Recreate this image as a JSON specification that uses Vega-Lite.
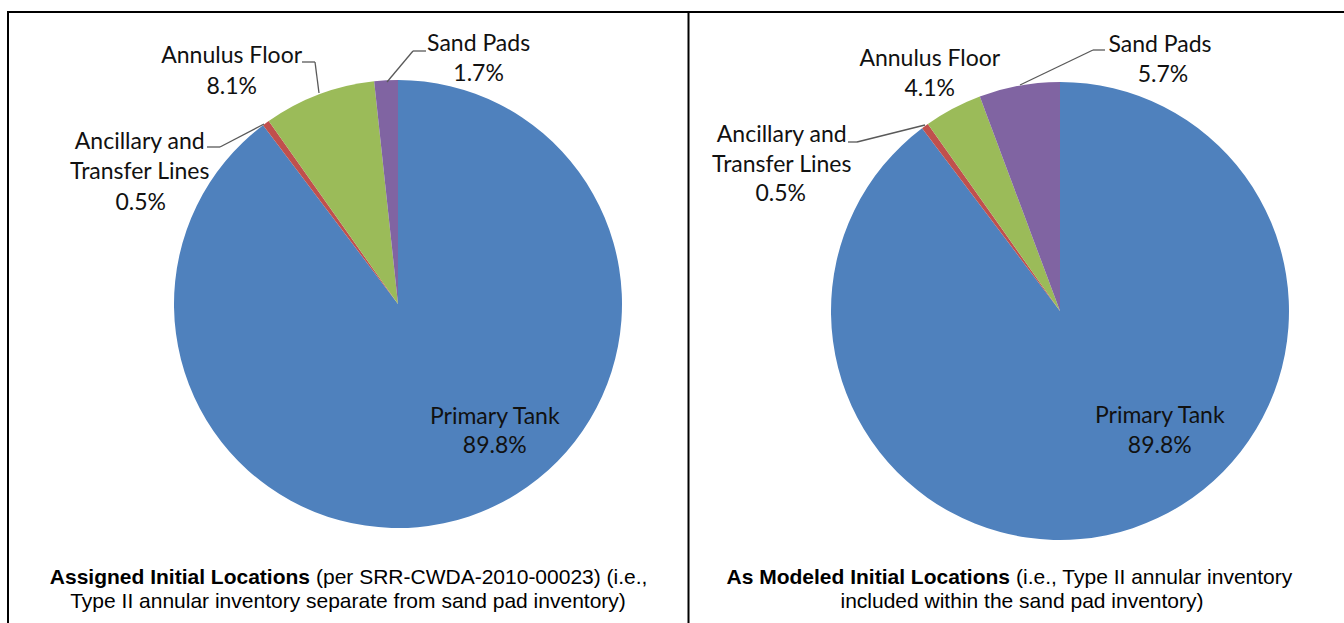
{
  "$schema": "https://vega.github.io/schema/vega-lite/v6.json",
  "width": 1344,
  "height": 623,
  "autosize": {"type": "fit", "contains": "padding"},
  "padding": 0,
  "background": "white",
  "config": {"view": {"stroke": null}},
  "datasets": {
    "assigned": [
      {"category": "Primary Tank", "share": 0.898, "order": 1},
      {"category": "Ancillary and\nTransfer Lines", "share": 0.005, "order": 2},
      {"category": "Annulus Floor", "share": 0.081, "order": 3},
      {"category": "Sand Pads", "share": 0.017, "order": 4}
    ],
    "modeled": [
      {"category": "Primary Tank", "share": 0.898, "order": 1},
      {"category": "Ancillary and\nTransfer Lines", "share": 0.005, "order": 2},
      {"category": "Annulus Floor", "share": 0.041, "order": 3},
      {"category": "Sand Pads", "share": 0.057, "order": 4}
    ],
    "one": [{}]
  },
  "layer": [
    {
      "data": {"name": "assigned"},
      "mark": {"type": "arc", "outerRadius": 224, "x": 398, "y": 304},
      "encoding": {
        "theta": {"field": "share", "type": "quantitative", "stack": true},
        "order": {"field": "order", "type": "quantitative"},
        "color": {"field": "category", "type": "nominal", "legend": null,
          "scale": {"domain": ["Primary Tank", "Ancillary and\nTransfer Lines", "Annulus Floor", "Sand Pads"],
                    "range": ["#4F81BD", "#C0504D", "#9BBB59", "#8064A2"]}}
      }
    },
    {
      "data": {"name": "assigned"},
      "mark": {"type": "text", "radius": 270, "x": 398, "y": 304, "font": "Lato", "fontSize": 23, "color": "#111111",
        "lineBreak": "\n", "lineHeight": 30, "baseline": "middle", "align": "center",
        "dx": {"expr": "datum.order===1?11:datum.order===2?-99:datum.order===3?-71:95"},
        "dy": {"expr": "datum.order===1?-143:datum.order===2?56:datum.order===3?5:10"}},
      "encoding": {
        "theta": {"field": "share", "type": "quantitative", "stack": true},
        "order": {"field": "order", "type": "quantitative"},
        "detail": {"field": "category", "type": "nominal"},
        "text": {"field": "category", "type": "nominal"}
      }
    },
    {
      "data": {"name": "assigned"},
      "mark": {"type": "text", "radius": 270, "x": 398, "y": 304, "font": "Lato", "fontSize": 23, "color": "#111111",
        "baseline": "middle", "align": "center",
        "dx": {"expr": "datum.order===1?11:datum.order===2?-98:datum.order===3?-71:95"},
        "dy": {"expr": "datum.order===1?-114:datum.order===2?117:datum.order===3?36:40"}},
      "encoding": {
        "theta": {"field": "share", "type": "quantitative", "stack": true},
        "order": {"field": "order", "type": "quantitative"},
        "detail": {"field": "category", "type": "nominal"},
        "text": {"field": "share", "type": "quantitative", "format": ".1%"}
      }
    },
    {
      "data": {"name": "modeled"},
      "mark": {"type": "arc", "outerRadius": 229, "x": 1060, "y": 311},
      "encoding": {
        "theta": {"field": "share", "type": "quantitative", "stack": true},
        "order": {"field": "order", "type": "quantitative"},
        "color": {"field": "category", "type": "nominal", "legend": null}
      }
    },
    {
      "data": {"name": "modeled"},
      "mark": {"type": "text", "radius": 270, "x": 1060, "y": 311, "font": "Lato", "fontSize": 23, "color": "#111111",
        "lineBreak": "\n", "lineHeight": 30, "baseline": "middle", "align": "center",
        "dx": {"expr": "datum.order===1?14:datum.order===2?-119:datum.order===3?-4:148"},
        "dy": {"expr": "datum.order===1?-151:datum.order===2?42:datum.order===3?-13:0"}},
      "encoding": {
        "theta": {"field": "share", "type": "quantitative", "stack": true},
        "order": {"field": "order", "type": "quantitative"},
        "detail": {"field": "category", "type": "nominal"},
        "text": {"field": "category", "type": "nominal"}
      }
    },
    {
      "data": {"name": "modeled"},
      "mark": {"type": "text", "radius": 270, "x": 1060, "y": 311, "font": "Lato", "fontSize": 23, "color": "#111111",
        "baseline": "middle", "align": "center",
        "dx": {"expr": "datum.order===1?14:datum.order===2?-120:datum.order===3?-4:151"},
        "dy": {"expr": "datum.order===1?-121:datum.order===2?101:datum.order===3?17:30"}},
      "encoding": {
        "theta": {"field": "share", "type": "quantitative", "stack": true},
        "order": {"field": "order", "type": "quantitative"},
        "detail": {"field": "category", "type": "nominal"},
        "text": {"field": "share", "type": "quantitative", "format": ".1%"}
      }
    },
    {"data": {"name": "one"}, "mark": {"type": "rule", "color": "#000000", "strokeWidth": 2}, "encoding": {"x": {"value": 7}, "x2": {"value": 1344}, "y": {"value": 12}}},
    {"data": {"name": "one"}, "mark": {"type": "rule", "color": "#000000", "strokeWidth": 2}, "encoding": {"x": {"value": 8}, "y": {"value": 11}, "y2": {"value": 623}}},
    {"data": {"name": "one"}, "mark": {"type": "rule", "color": "#000000", "strokeWidth": 2}, "encoding": {"x": {"value": 688.5}, "y": {"value": 11}, "y2": {"value": 623}}},
    {"data": {"name": "one"}, "mark": {"type": "rule", "color": "#595959", "strokeWidth": 1.3}, "encoding": {"x": {"value": 302}, "y": {"value": 62}, "x2": {"value": 315}, "y2": {"value": 62}}},
    {"data": {"name": "one"}, "mark": {"type": "rule", "color": "#595959", "strokeWidth": 1.3}, "encoding": {"x": {"value": 315}, "y": {"value": 62}, "x2": {"value": 319}, "y2": {"value": 93}}},
    {"data": {"name": "one"}, "mark": {"type": "rule", "color": "#595959", "strokeWidth": 1.3}, "encoding": {"x": {"value": 387}, "y": {"value": 82}, "x2": {"value": 413}, "y2": {"value": 51}}},
    {"data": {"name": "one"}, "mark": {"type": "rule", "color": "#595959", "strokeWidth": 1.3}, "encoding": {"x": {"value": 413}, "y": {"value": 51}, "x2": {"value": 426}, "y2": {"value": 51}}},
    {"data": {"name": "one"}, "mark": {"type": "rule", "color": "#595959", "strokeWidth": 1.3}, "encoding": {"x": {"value": 207}, "y": {"value": 147}, "x2": {"value": 220}, "y2": {"value": 147}}},
    {"data": {"name": "one"}, "mark": {"type": "rule", "color": "#595959", "strokeWidth": 1.3}, "encoding": {"x": {"value": 220}, "y": {"value": 147}, "x2": {"value": 264}, "y2": {"value": 124}}},
    {"data": {"name": "one"}, "mark": {"type": "rule", "color": "#595959", "strokeWidth": 1.3}, "encoding": {"x": {"value": 848}, "y": {"value": 142}, "x2": {"value": 857}, "y2": {"value": 142}}},
    {"data": {"name": "one"}, "mark": {"type": "rule", "color": "#595959", "strokeWidth": 1.3}, "encoding": {"x": {"value": 857}, "y": {"value": 142}, "x2": {"value": 925}, "y2": {"value": 125}}},
    {"data": {"name": "one"}, "mark": {"type": "rule", "color": "#595959", "strokeWidth": 1.3}, "encoding": {"x": {"value": 1020}, "y": {"value": 85}, "x2": {"value": 1093}, "y2": {"value": 50}}},
    {"data": {"name": "one"}, "mark": {"type": "rule", "color": "#595959", "strokeWidth": 1.3}, "encoding": {"x": {"value": 1093}, "y": {"value": 50}, "x2": {"value": 1105}, "y2": {"value": 50}}},
    {"data": {"name": "one"}, "mark": {"type": "text", "text": "Assigned Initial Locations", "x": 310, "y": 578, "align": "right", "baseline": "middle", "font": "Liberation Sans", "fontSize": 21, "fontWeight": "bold", "color": "#000000"}, "encoding": {}},
    {"data": {"name": "one"}, "mark": {"type": "text", "text": "(per SRR-CWDA-2010-00023) (i.e.,", "x": 316, "y": 578, "align": "left", "baseline": "middle", "font": "Liberation Sans", "fontSize": 21, "color": "#000000"}, "encoding": {}},
    {"data": {"name": "one"}, "mark": {"type": "text", "text": "Type II annular inventory separate from sand pad inventory)", "x": 348, "y": 602, "align": "center", "baseline": "middle", "font": "Liberation Sans", "fontSize": 21, "color": "#000000"}, "encoding": {}},
    {"data": {"name": "one"}, "mark": {"type": "text", "text": "As Modeled Initial Locations", "x": 1010, "y": 578, "align": "right", "baseline": "middle", "font": "Liberation Sans", "fontSize": 21, "fontWeight": "bold", "color": "#000000"}, "encoding": {}},
    {"data": {"name": "one"}, "mark": {"type": "text", "text": "(i.e., Type II annular inventory", "x": 1016, "y": 578, "align": "left", "baseline": "middle", "font": "Liberation Sans", "fontSize": 21, "color": "#000000"}, "encoding": {}},
    {"data": {"name": "one"}, "mark": {"type": "text", "text": "included within the sand pad inventory)", "x": 1022, "y": 602, "align": "center", "baseline": "middle", "font": "Liberation Sans", "fontSize": 21, "color": "#000000"}, "encoding": {}}
  ]
}
